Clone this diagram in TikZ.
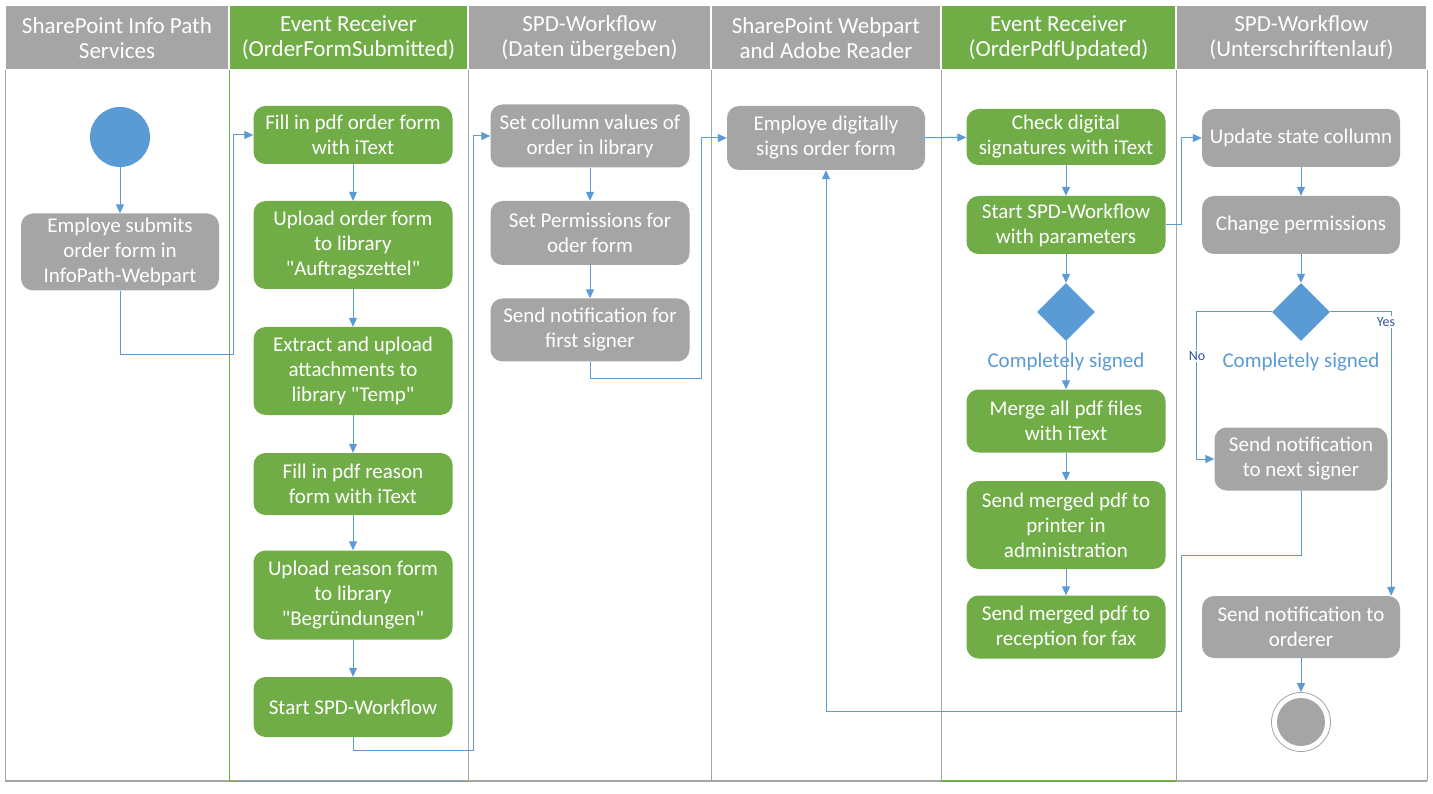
\documentclass[tikz,border=0pt]{standalone}
\usepackage{fontspec}
\setmainfont{Carlito}
\usetikzlibrary{positioning,shapes.geometric,arrows.meta}
\definecolor{officegreen}{RGB}{112,173,71}
\definecolor{officegray}{RGB}{165,165,165}
\definecolor{officeblue}{RGB}{91,155,213}
\definecolor{yesnoblue}{RGB}{47,84,150}

\begin{document}
\begin{tikzpicture}[
  x=1pt, y=-1pt,
  every node/.style={font=\fontsize{21}{25}\selectfont},
  act/.style={rectangle, rounded corners=12pt, minimum width=199pt, inner sep=1pt, align=center, text=white},
  gact/.style={act, fill=officegreen},
  cact/.style={act, fill=officegray},
  decision/.style={diamond, fill=officeblue, minimum width=58pt, minimum height=58pt, inner sep=0pt},
  flow/.style={draw=officeblue, line width=1pt, -{Triangle[length=9pt,width=8pt]}},
  lane/.style={draw=officegray, line width=0.8pt},
  head/.style={font=\fontsize{23}{25}\selectfont, text=white, align=center, inner sep=0pt},
  guard/.style={text=officeblue},
  branch/.style={font=\fontsize{14}{16}\selectfont, text=yesnoblue, fill=white, inner sep=1pt}
]
\fill[white] (0,0) rectangle (1433,794);

% swimlanes
\foreach \xa/\xb/\col/\txt [count=\i] in {
  5/229/officegray/{SharePoint Info Path\\Services},
  229/468/officegreen/{Event Receiver\\(OrderFormSubmitted)},
  468/711/officegray/{SPD-Workflow\\(Daten übergeben)},
  711/941/officegray/{SharePoint Webpart\\and Adobe Reader},
  941/1176/officegreen/{Event Receiver\\(OrderPdfUpdated)},
  1176/1427/officegray/{SPD-Workflow\\(Unterschriftenlauf)}}
{
  \draw[white, line width=1.5pt, fill=\col] (\xa,5) rectangle (\xb,70);
  \node[head] (h\i) at ({(\xa+\xb)/2},38) {\txt};
}
\foreach \x in {5,468,711,941,1176,1427}
  \draw[lane] (\x,70) -- (\x,781);
\draw[lane, line width=1.2pt] (5,781) -- (1427,781);
\draw[officegreen, line width=0.8pt] (229,70) -- (229,781) -- (468,781);
\draw[officegreen, line width=1.2pt] (941,781) -- (1176,781);

% lane 1
\node[circle, fill=officeblue, minimum size=60pt, inner sep=0pt] (start) at (120,137) {};
\node[cact, minimum width=198pt, minimum height=77pt] (emp) at (120,252) {Employe submits\\order form in\\InfoPath-Webpart};

% lane 2
\node[gact, minimum height=58pt] (fillorder) at (353,135) {Fill in pdf order form\\with iText};
\node[gact, minimum height=88pt] (uploadorder) at (353,245) {Upload order form\\to library\\\textquotedbl Auftragszettel\textquotedbl};
\node[gact, minimum height=88pt] (extract) at (353,371) {Extract and upload\\attachments to\\library \textquotedbl Temp\textquotedbl};
\node[gact, minimum height=62pt] (fillreason) at (353,484) {Fill in pdf reason\\form with iText};
\node[gact, minimum height=89pt] (uploadreason) at (353,595) {Upload reason form\\to library\\\textquotedbl Begründungen\textquotedbl};
\node[gact, minimum height=60pt] (startwf) at (353,707) {Start SPD-Workflow};

% lane 3
\node[cact, minimum height=63pt] (setcol) at (590,136) {Set collumn values of\\order in library};
\node[cact, minimum height=64pt] (setperm) at (590,233) {Set Permissions for\\oder form};
\node[cact, minimum height=63pt] (sendfirst) at (590,330) {Send notification for\\first signer};

% lane 4
\node[cact, minimum width=198pt, minimum height=64pt] (signs) at (826,138) {Employe digitally\\signs order form};

% lane 5
\node[gact, minimum height=56pt] (check) at (1066,137) {Check digital\\signatures with iText};
\node[gact, minimum height=58pt] (startparam) at (1066,225) {Start SPD-Workflow\\with parameters};
\node[decision] (dia1) at (1066,312) {};
\node[gact, minimum height=63pt] (merge) at (1066,421) {Merge all pdf files\\with iText};
\node[gact, minimum height=88pt] (printer) at (1066,525) {Send merged pdf to\\printer in\\administration};
\node[gact, minimum height=63pt] (fax) at (1066,627) {Send merged pdf to\\reception for fax};

% lane 6
\node[cact, minimum width=198pt, minimum height=58pt] (update) at (1301,138) {Update state collumn};
\node[cact, minimum width=198pt, minimum height=58pt] (changeperm) at (1301,225) {Change permissions};
\node[decision] (dia2) at (1301,312) {};
\node[cact, minimum width=173pt, minimum height=63pt] (nextsigner) at (1301,459) {Send notification\\to next signer};
\node[cact, minimum width=198pt, minimum height=62pt] (orderer) at (1301,627) {Send notification to\\orderer};
\node[circle, draw=officegray, line width=0.8pt, minimum size=59pt, inner sep=0pt] (stop) at (1301,722) {};
\node[circle, fill=officegray, minimum size=48pt, inner sep=0pt] (stopdot) at (stop) {};

% straight flows
\foreach \a/\b in {start/emp, fillorder/uploadorder, uploadorder/extract, extract/fillreason,
  fillreason/uploadreason, uploadreason/startwf, setcol/setperm, setperm/sendfirst,
  signs/check, check/startparam, startparam/dia1, dia1/merge, merge/printer, printer/fax,
  update/changeperm, changeperm/dia2, orderer/stop}
  \draw[flow] (\a) -- (\b);

% routed flows
\draw[flow] (emp.south) -- ++(0,64) -| ([xshift=-20pt]fillorder.west) -- (fillorder.west);
\draw[flow] (startwf.south) -- ++(0,13) -| ([xshift=-17pt]setcol.west) -- (setcol.west);
\draw[flow] (sendfirst.south) -- ++(0,17) -| ([xshift=-25pt]signs.west) -- (signs.west);
\draw[flow] (startparam.east) -- ++(16,0) |- (update.west);
\draw[flow] (dia2.west) -| ([xshift=-18pt]nextsigner.west) -- (nextsigner.west);
\draw[flow] (dia2.east) -| ([xshift=-9pt]orderer.north east);
\draw[flow] (nextsigner.south) -- ++(0,65) -- ++(-120,0) -- ++(0,156) -| (signs.south);

% guards
\node[guard] (signed1) at (1066,362) {Completely signed};
\node[guard] (signed2) at (1301,362) {Completely signed};
\node[branch] (no) at (1197,356) {No};
\node[branch] (yes) at (1386,322) {Yes};
\end{tikzpicture}
\end{document}
